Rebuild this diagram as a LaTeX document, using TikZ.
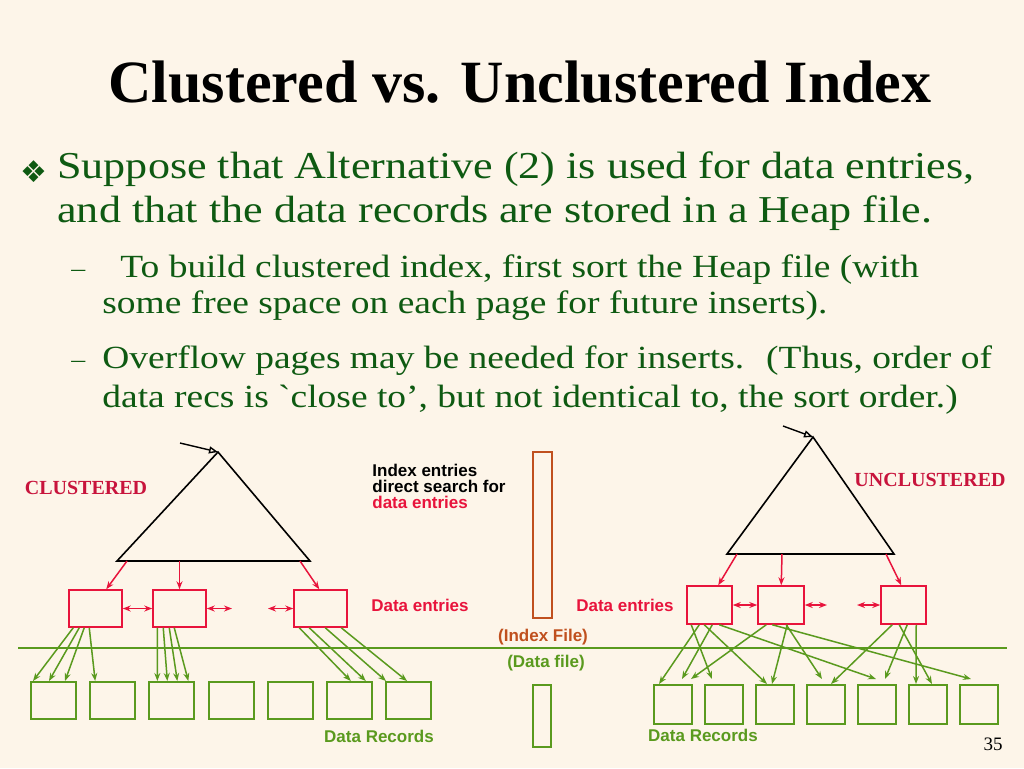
\documentclass[tikz,border=0pt]{standalone}
\usepackage{fontspec}
\usetikzlibrary{arrows.meta,positioning}
\setmainfont{Liberation Serif}
\newfontfamily\bodyfont{Liberation Serif}[FakeStretch=1.16]
\newfontfamily\labelfont{Liberation Sans}
\newfontfamily\symfont{DejaVu Sans}
\definecolor{bgcream}{HTML}{FDF5E9}
\definecolor{txtgreen}{HTML}{0E5A12}
\definecolor{capred}{HTML}{C8143C}
\definecolor{entred}{HTML}{E8143C}
\definecolor{recgreen}{HTML}{5A9A1E}
\definecolor{filebrown}{HTML}{C0501E}

\begin{document}
\begin{tikzpicture}[
    x=0.5pt, y=-0.5pt,
    entbox/.style={draw=entred, line width=0.75pt, inner sep=0, minimum width=26.5pt, minimum height=18.5pt},
    recbox/.style={draw=recgreen, line width=1pt, inner sep=0, minimum width=22.5pt, minimum height=18.5pt},
    tree/.style={draw=black, line width=0.8pt, line join=miter},
    rootarr/.style={-{Triangle[open,length=4.5pt,width=3.5pt]}, line width=0.7pt},
    rarr/.style={-{Stealth[length=4pt,width=3pt]}, draw=entred, line width=0.75pt},
    sibarr/.style={{Stealth[length=4pt,width=3pt]}-{Stealth[length=4pt,width=3pt]}, draw=entred, line width=0.75pt},
    garr/.style={-{Stealth[length=4pt,width=3pt]}, draw=recgreen, line width=0.75pt},
    bodytxt/.style={anchor=base west, inner sep=0, text=txtgreen, font=\bodyfont\fontsize{19}{23}\selectfont},
    subtxt/.style={anchor=base west, inner sep=0, text=txtgreen, font=\bodyfont\fontsize{16.15}{20}\selectfont},
    dashtxt/.style={anchor=base west, inner sep=0, text=txtgreen, font=\bodyfont\fontsize{12}{14}\selectfont},
    lbl/.style={inner sep=0, font=\labelfont\bfseries\fontsize{8.5}{8}\selectfont},
    kind/.style={inner sep=0, text=capred, font=\bfseries\fontsize{10}{12}\selectfont}
]
\fill[bgcream] (0,0) rectangle (1024,768);
\useasboundingbox (0,0) rectangle (1024,768);

% title and bullets
\node[anchor=base, inner sep=0, font=\bfseries\fontsize{30}{36}\selectfont] (title) at (520,102) {Clustered vs. Unclustered Index};
\node[inner sep=0, text=txtgreen, font=\symfont\fontsize{15}{18}\selectfont] (mark) at (34,172) {❖};
\node[bodytxt] (l1) at (57,178) {Suppose that Alternative (2) is used for data entries,};
\node[bodytxt] (l2) at (57,222) {and that the data records are stored in a Heap file.};
\node[dashtxt] (d1) at (71,276) {–};
\node[subtxt] (l3) at (120,277) {To build clustered index, first sort the Heap file (with};
\node[subtxt] (l4) at (102,313) {some free space on each page for future inserts).};
\node[dashtxt] (d2) at (71,367) {–};
\node[subtxt] (l5) at (102,368) {Overflow pages may be needed for inserts.~ (Thus, order of};
\node[subtxt] (l6) at (102,407) {data recs is `close to’, but not identical to, the sort order.)};

% clustered tree
\coordinate (capex) at (218,452);
\coordinate (cleft) at (117,561);
\coordinate (cright) at (310,561);
\coordinate (croot) at (180,443);
\draw[tree] (capex) -- (cleft) -- (cright) -- cycle;
\draw[rootarr] (croot) -- (capex);
\node[kind] (clab) at (86,488) {CLUSTERED};

\node[entbox] (cb1) at (95.5,608.5) {};
\node[entbox] (cb2) at (179.5,608.5) {};
\node[entbox] (cb3) at (320.5,608.5) {};
\coordinate (cs1) at (127,561);
\coordinate (cs2) at (179.5,561);
\coordinate (cs3) at (300,561);
\draw[rarr] (cs1) -- ([shift={(38,0)}]cb1.north west);
\draw[rarr] (cs2) -- (cb2.north);
\draw[rarr] (cs3) -- ([shift={(26,0)}]cb3.north west);
\coordinate (cgap1) at (232,608.5);
\coordinate (cgap2) at (268,608.5);
\draw[sibarr] (cb1) -- (cb2);
\draw[sibarr] (cb2) -- (cgap1);
\draw[sibarr] (cgap2) -- (cb3);

\foreach \i in {1,...,7}
  \node[recbox] (cd\i) at ({53.5+59.17*(\i-1)},700.5) {};

\foreach \s/\sx/\d/\dx in {cb1/5/cd1/3, cb1/11/cd1/19, cb1/16/cd1/35, cb1/21/cd2/6,
    cb2/5/cd3/9, cb2/11/cd3/19, cb2/17/cd3/29, cb2/22/cd3/40,
    cb3/6/cd6/25, cb3/16/cd6/40, cb3/32/cd7/1, cb3/48/cd7/22}
  \draw[garr] ([shift={(\sx,0)}]\s.south west) -- ([shift={(\dx,0)}]\d.north west);
\node[lbl, text=recgreen] (crec) at (379,736) {Data Records};

% middle
\node[lbl, anchor=north west, align=left] (idxnote) at (372,464) {Index entries\\direct search for\\\textcolor{entred}{data entries}};
\node[draw=filebrown, line width=0.75pt, inner sep=0, minimum width=9.5pt, minimum height=83pt] (idxfile) at (542.5,535) {};
\node[lbl, text=entred] (cent) at (420,605) {Data entries};
\node[lbl, text=entred] (uent) at (625,605) {Data entries};
\node[lbl, text=filebrown] (idxlab) at (543,637) {(Index File)};
\node[lbl, text=recgreen] (datlab) at (546,663) {(Data file)};
\node[draw=recgreen, line width=1pt, inner sep=0, minimum width=9pt, minimum height=31pt] (datfile) at (542,716) {};
\coordinate (sepl) at (18,648);
\coordinate (sepr) at (1007,648);
\draw[recgreen, line width=0.75pt] (sepl) -- (sepr);

% unclustered tree
\coordinate (uapex) at (813,437);
\coordinate (uleft) at (727,554);
\coordinate (uright) at (894,554);
\coordinate (uroot) at (783,426);
\draw[tree] (uapex) -- (uleft) -- (uright) -- cycle;
\draw[rootarr] (uroot) -- (uapex);
\node[kind] (ulab) at (930,480) {UNCLUSTERED};

\node[entbox, minimum width=22.5pt, minimum height=19pt] (ub1) at (709.5,605) {};
\node[entbox, minimum width=23pt, minimum height=19pt] (ub2) at (781,605) {};
\node[entbox, minimum width=22.5pt, minimum height=19pt] (ub3) at (903.5,605) {};
\coordinate (us1) at (737,554);
\coordinate (us2) at (782,554);
\coordinate (us3) at (886,554);
\draw[rarr] (us1) -- ([shift={(32,0)}]ub1.north west);
\draw[rarr] (us2) -- ([shift={(24,0)}]ub2.north west);
\draw[rarr] (us3) -- ([shift={(21,0)}]ub3.north west);
\coordinate (ugap1) at (827,605);
\coordinate (ugap2) at (857,605);
\draw[sibarr] (ub1) -- (ub2);
\draw[sibarr] (ub2) -- (ugap1);
\draw[sibarr] (ugap2) -- (ub3);

\foreach \i in {1,...,7}
  \node[recbox, minimum width=19pt, minimum height=19.5pt] (ud\i) at ({673+51*(\i-1)},704.5) {};

\foreach \s/\sx/\d/\dx/\dy in {ub1/13/ud1/6/0, ub1/5/ud2/8/-5, ub1/26/ud1/29/-5, ub1/18/ud3/12/0, ub1/33/ud5/19/-5,
    ub2/9/ud1/38/-5, ub2/30/ud3/17/0, ub2/29/ud4/16/-5, ub2/15/ud7/12/-5,
    ub3/12/ud4/25/0, ub3/27/ud5/28/-5, ub3/19/ud6/24/0, ub3/36/ud6/8/0}
  \draw[garr] ([shift={(\sx,0)}]\s.south west) -- ([shift={(\dx,\dy)}]\d.north west);
\node[lbl, text=recgreen] (urec) at (703,735) {Data Records};

\node[anchor=base, inner sep=0, font=\fontsize{9.5}{11}\selectfont] (pnum) at (993,750) {35};
\end{tikzpicture}
\end{document}
